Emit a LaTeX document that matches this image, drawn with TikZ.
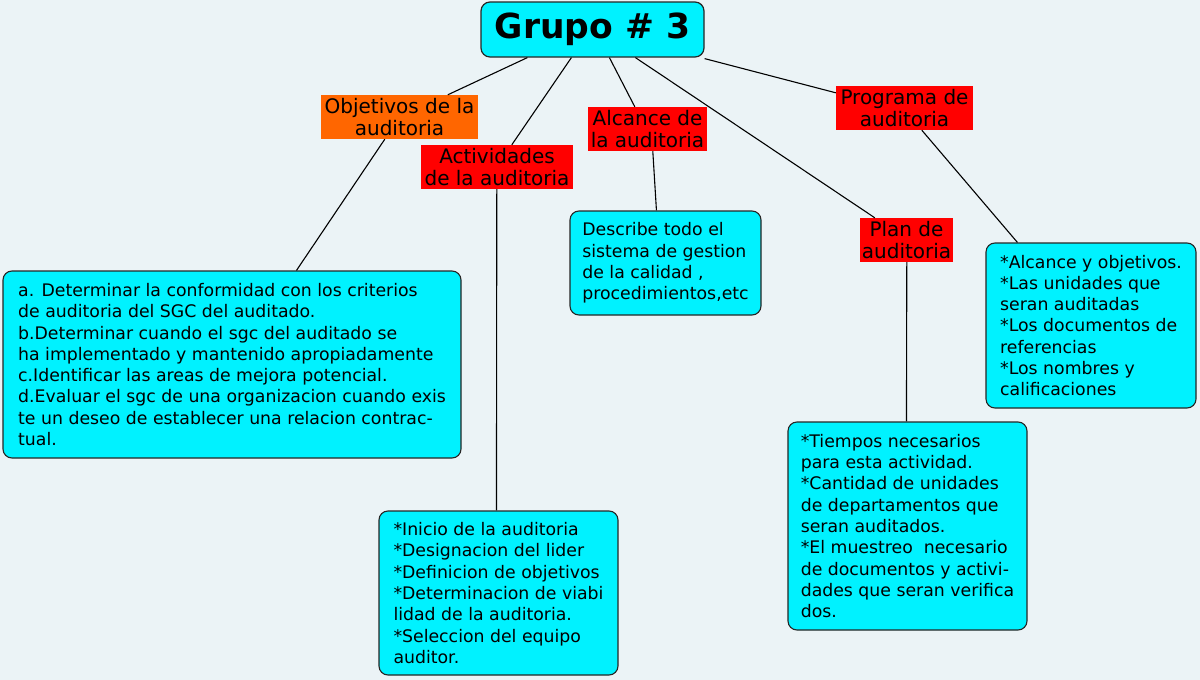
\documentclass[tikz,border=0pt]{standalone}
\usepackage{fontspec}
\setmainfont{DejaVu Sans}
\usepackage{tikz}
\usetikzlibrary{calc}

\definecolor{fondo}{RGB}{235,243,246}
\definecolor{cian}{RGB}{0,242,255}
\definecolor{rojo}{RGB}{255,0,0}
\definecolor{naranja}{RGB}{255,102,0}

\tikzset{
	titulo/.style={draw=black!85, line width=1.2pt, fill=cian, rounded corners=9pt, inner sep=0pt,
		minimum width=223pt, minimum height=55pt, font=\fontsize{34.5}{40}\selectfont\bfseries},
	etiqueta/.style={fill=#1, inner sep=0pt, align=center, minimum height=44pt,
		font=\fontsize{20}{22.5}\selectfont},
	caja/.style={draw=black!85, line width=1.1pt, fill=cian, rounded corners=9pt, inner sep=0pt,
		align=left, font=\fontsize{17.3}{21.3}\selectfont},
	enlace/.style={line width=1.1pt, black}
}

\begin{document}
\begin{tikzpicture}[x=1pt, y=-1pt]
			% Fondo
			\fill[fondo] (0,0) rectangle (1200,680);
			\useasboundingbox (0,0) rectangle (1200,680);
			% Nodes
			\node[titulo] (grupo) at (592.5,29.5) {Grupo \# 3};
			\node[etiqueta=naranja, minimum width=157pt] (objetivos) at (399.5,117) {Objetivos de la\\auditoria};
			\node[etiqueta=rojo, minimum width=152pt] (actividades) at (497,167) {Actividades\\de la auditoria};
			\node[etiqueta=rojo, minimum width=119pt] (alcance) at (647.5,129) {Alcance de\\la auditoria};
			\node[etiqueta=rojo, minimum width=137pt] (programa) at (904.5,108) {Programa de\\auditoria};
			\node[etiqueta=rojo, minimum width=93pt] (plan) at (906.5,240) {Plan de\\auditoria};
			\node[caja, minimum width=458pt, minimum height=187pt] (cajaObj) at (232,364.5)
				{a. Determinar la conformidad con los criterios\\
				de auditoria del SGC del auditado.\\
				b.Determinar cuando el sgc del auditado se\\
				ha implementado y mantenido apropiadamente\\
				c.Identificar las areas de mejora potencial.\\
				d.Evaluar el sgc de una organizacion cuando exis\\
				te un deseo de establecer una relacion contrac-\\
				tual.};
			\node[caja, minimum width=191pt, minimum height=104pt] (cajaAlc) at (665.5,263)
				{Describe todo el\\sistema de gestion\\de la calidad ,\\procedimientos,etc};
			\node[caja, minimum width=210pt, minimum height=165pt] (cajaProg) at (1091,325.5)
				{*Alcance y objetivos.\\*Las unidades que\\seran auditadas\\*Los documentos de\\referencias\\*Los nombres y\\calificaciones};
			\node[caja, minimum width=239pt, minimum height=164pt] (cajaAct) at (498.5,593)
				{*Inicio de la auditoria\\*Designacion del lider\\*Definicion de objetivos\\*Determinacion de viabi\\lidad de la auditoria.\\*Seleccion del equipo\\auditor.};
			\node[caja, minimum width=239pt, minimum height=208pt] (cajaPlan) at (907.5,526)
				{*Tiempos necesarios\\para esta actividad.\\*Cantidad de unidades\\de departamentos que\\seran auditados.\\*El muestreo\ \ necesario\\de documentos y activi-\\dades que seran verifica\\dos.};
			% Lines
			\draw[enlace] ($(grupo.south west)+(47,0)$) -- ($(objetivos.north west)+(127,0)$);
			\draw[enlace] ($(grupo.south west)+(91,0)$) -- ($(actividades.north west)+(91,0)$);
			\draw[enlace] ($(grupo.south west)+(129,0)$) -- ($(alcance.north west)+(47,0)$);
			\draw[enlace] ($(grupo.south west)+(155,0)$) -- ($(plan.north west)+(15,0)$);
			\draw[enlace] ($(grupo.south east)+(0,1)$) -- ($(programa.north west)+(0,7)$);
			\draw[enlace] ($(objetivos.south west)+(64,0)$) -- ($(cajaObj.north west)+(294,0)$);
			\draw[enlace] ($(actividades.south west)+(76,0)$) -- ($(cajaAct.north west)+(118,0)$);
			\draw[enlace] ($(alcance.south west)+(65,0)$) -- ($(cajaAlc.north west)+(87,0)$);
			\draw[enlace] ($(plan.south west)+(47,0)$) -- ($(cajaPlan.north west)+(119,0)$);
			\draw[enlace] ($(programa.south west)+(86,0)$) -- ($(cajaProg.north west)+(32,0)$);
		\end{tikzpicture}
\end{document}
